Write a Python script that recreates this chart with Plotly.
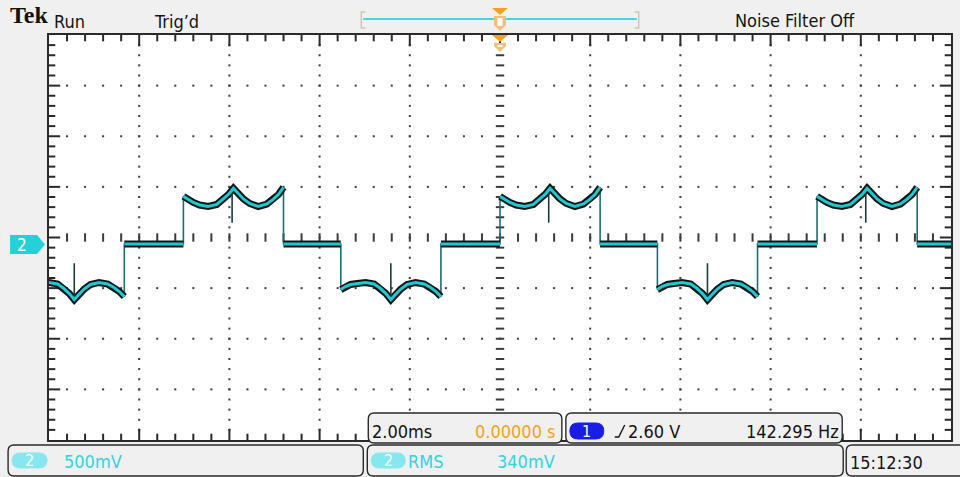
import plotly.graph_objects as go

# ---------------- acquisition settings ----------------
time_per_div_ms = 2.0
volts_per_div = 0.5
n_hdiv, n_vdiv = 10, 8
graticule_center_v = 0.064      # CH2 ground sits just below the graticule centre

# ---------------- channel 2 waveform ----------------
# three-level stepped output: +plateau, 0, -plateau, 0 ...
high_starts_ms = [-7.02, 0.00, 7.03]
low_starts_ms = [-10.55, -3.53, 3.49]
# time offsets (ms) across one 2.22 ms plateau and the ripple read on it
plateau_t_ms = [0.00, 0.10, 0.22, 0.36, 0.55, 0.74, 0.88, 1.00, 1.11,
                1.21, 1.33, 1.47, 1.66, 1.85, 1.99, 2.11, 2.22]
high_plateau_v = [0.47, 0.44, 0.41, 0.385, 0.37, 0.39, 0.44, 0.49, 0.55,
                  0.50, 0.445, 0.40, 0.37, 0.395, 0.44, 0.49, 0.56]
low_plateau_v = [-0.45, -0.42, -0.40, -0.39, -0.38, -0.395, -0.44, -0.49, -0.55,
                 -0.50, -0.445, -0.40, -0.38, -0.395, -0.43, -0.47, -0.52]
# glitch at the middle cusp of each plateau: (offset ms, tip volts)
high_spike = (1.08, 0.21)
low_spike = (1.11, -0.19)

# ---------------- readouts ----------------
hdr_brand, hdr_state, hdr_trig, hdr_filter = "Tek", "Run", "Trig\u2019d", "Noise Filter Off"
ch_label = "2"
timebase_txt, trig_pos_txt = "2.00ms", "0.00000 s"
trig_src_txt, trig_level_txt, freq_txt = "1", "2.60 V", "142.295 Hz"
ch_scale_txt, meas_name_txt, meas_val_txt = "500mV", "RMS", "340mV"
clock_txt = "15:12:30"

# ---------------- colours / fonts ----------------
BG = "#f0f0f0"
FRAME = "#2a2a2a"
DOT = "#3c3c3c"
CYAN = "#22c8d1"
CYAN_TXT = "#33d3dd"
PILL = "#86e8ee"
ORANGE = "#f2a21e"
ORANGE_LT = "#f3bd7c"
BLUE = "#1c1ce8"
FONT = "DejaVu Sans Condensed, sans-serif"
FS = 18

# ---------------- page geometry (px) ----------------
W, H = 960, 477
PL, PR, PT, PB = 49, 953, 35, 440


def fx(px):
    return (px - PL) / (PR - PL)


def fy(py):
    return (PB - py) / (PB - PT)


t_half = n_hdiv / 2 * time_per_div_ms
v_half = n_vdiv / 2 * volts_per_div
x_range = [-t_half, t_half]
y_range = [graticule_center_v - v_half, graticule_center_v + v_half]

# ---------------- build the trace path ----------------
segments = sorted([(s, "high") for s in high_starts_ms] + [(s, "low") for s in low_starts_ms])
path_x, path_y = [], []          # full path including the vertical edges
band_x, band_y = [], []          # plateaus / zero stretches only (thick band)
spike_x, spike_y = [], []
t_prev = None
for start, kind in segments:
    vals = high_plateau_v if kind == "high" else low_plateau_v
    spike = high_spike if kind == "high" else low_spike
    if t_prev is not None:
        band_x += [t_prev, start, None]
        band_y += [0.0, 0.0, None]
        path_x += [t_prev, start]
        path_y += [0.0, 0.0]
    px = [start + t for t in plateau_t_ms]
    band_x += px + [None]
    band_y += vals + [None]
    path_x += px
    path_y += vals
    cusp_v = vals[plateau_t_ms.index(1.11)]
    spike_x += [start + spike[0], start + spike[0], None]
    spike_y += [cusp_v, spike[1], None]
    t_prev = px[-1]
band_x += [t_prev, x_range[1]]
band_y += [0.0, 0.0]
path_x += [t_prev, x_range[1]]
path_y += [0.0, 0.0]

# ---------------- graticule ----------------
dx_minor = time_per_div_ms / 5
dy_minor = volts_per_div / 5
dot_x, dot_y = [], []
for k in range(1, n_vdiv):
    if k == n_vdiv // 2:
        continue
    yv = y_range[0] + k * volts_per_div
    for i in range(1, n_hdiv * 5):
        dot_x.append(x_range[0] + i * dx_minor)
        dot_y.append(yv)
for k in range(1, n_hdiv):
    if k == n_hdiv // 2:
        continue
    xv = x_range[0] + k * time_per_div_ms
    for j in range(1, n_vdiv * 5):
        dot_x.append(xv)
        dot_y.append(y_range[0] + j * dy_minor)

cx_ticks = [x_range[0] + i * dx_minor for i in range(1, n_hdiv * 5)]
cy_ticks = [y_range[0] + j * dy_minor for j in range(1, n_vdiv * 5)]

fig = go.Figure()
fig.add_trace(go.Scatter(x=dot_x, y=dot_y, mode="markers",
                         marker=dict(symbol="square", size=2, color=DOT, line=dict(width=0)),
                         hoverinfo="skip"))
# centre cross ticks
fig.add_trace(go.Scatter(x=cx_ticks, y=[graticule_center_v] * len(cx_ticks), mode="markers",
                         marker=dict(symbol="line-ns", size=6, line=dict(width=2, color=DOT)),
                         hoverinfo="skip"))
fig.add_trace(go.Scatter(x=[0.0] * len(cy_ticks), y=cy_ticks, mode="markers",
                         marker=dict(symbol="line-ew", size=6, line=dict(width=2, color=DOT)),
                         hoverinfo="skip"))

# frame ticks: markers centred on the border, clipped to the inner half
for is_major in (False, True):
    size = 16 if is_major else 9
    xs = [x for i, x in enumerate(cx_ticks) if ((i + 1) % 5 == 0) == is_major]
    ys = [y for j, y in enumerate(cy_ticks) if ((j + 1) % 5 == 0) == is_major]
    fig.add_trace(go.Scatter(x=xs + xs, y=[y_range[0]] * len(xs) + [y_range[1]] * len(xs),
                             mode="markers", cliponaxis=True,
                             marker=dict(symbol="line-ns", size=size,
                                         line=dict(width=2, color=FRAME)),
                             hoverinfo="skip"))
    fig.add_trace(go.Scatter(x=[x_range[0]] * len(ys) + [x_range[1]] * len(ys), y=ys + ys,
                             mode="markers", cliponaxis=True,
                             marker=dict(symbol="line-ew", size=size,
                                         line=dict(width=2, color=FRAME)),
                             hoverinfo="skip"))

# channel 2 trace: dark persistence band, thin edges, bright core
fig.add_trace(go.Scatter(x=path_x, y=path_y, mode="lines",
                         line=dict(color="#1d6d72", width=1.6), hoverinfo="skip"))
fig.add_trace(go.Scatter(x=band_x, y=band_y, mode="lines",
                         line=dict(color="#0c1616", width=7), hoverinfo="skip"))
fig.add_trace(go.Scatter(x=spike_x, y=spike_y, mode="lines",
                         line=dict(color="#1a3a3c", width=1.6), hoverinfo="skip"))
fig.add_trace(go.Scatter(x=band_x, y=band_y, mode="lines",
                         line=dict(color=CYAN, width=3), hoverinfo="skip"))

shapes = []
annotations = []


def rrect(x0, y0, x1, y1, r=6, fill=BG, line=FRAME, lw=1.4):
    rx = r / (PR - PL)
    ry = r / (PB - PT)
    a, b, c, d = fx(x0), fx(x1), fy(y0), fy(y1)   # c top, d bottom (paper)
    p = (f"M {a + rx},{c} L {b - rx},{c} Q {b},{c} {b},{c - ry} "
         f"L {b},{d + ry} Q {b},{d} {b - rx},{d} L {a + rx},{d} "
         f"Q {a},{d} {a},{d + ry} L {a},{c - ry} Q {a},{c} {a + rx},{c} Z")
    shapes.append(dict(type="path", path=p, xref="paper", yref="paper",
                       fillcolor=fill, line=dict(color=line, width=lw), layer="above"))


def poly(pts, fill, line_color=None, lw=0):
    p = "M " + " L ".join(f"{fx(x)},{fy(y)}" for x, y in pts) + " Z"
    shapes.append(dict(type="path", path=p, xref="paper", yref="paper",
                       fillcolor=fill, line=dict(color=line_color or fill, width=lw),
                       layer="above"))


def text(s, x, y, size=FS, color="#141414", anchor="left", family=FONT, bold=False):
    if bold:
        s = f"<b>{s}</b>"
    annotations.append(dict(text=s, x=fx(x), y=fy(y), xref="paper", yref="paper",
                            xanchor=anchor, yanchor="middle", showarrow=False,
                            font=dict(size=size, color=color, family=family)))


# ---- header ----
text(hdr_brand, 8, 15, size=24, family="Liberation Serif, serif", bold=True, color="#111")
text(hdr_state, 52, 21)
text(hdr_trig, 152, 21)
text(hdr_filter, 797, 20, anchor="center")

# horizontal position bar
shapes.append(dict(type="line", xref="paper", yref="paper", x0=fx(364), x1=fx(638),
                   y0=fy(19), y1=fy(19), line=dict(color="#45d6df", width=2), layer="above"))
for bx, sgn in ((362, 1), (640, -1)):
    p = (f"M {fx(bx + 4 * sgn)},{fy(12)} L {fx(bx)},{fy(12)} "
         f"L {fx(bx)},{fy(28)} L {fx(bx + 4 * sgn)},{fy(28)}")
    shapes.append(dict(type="path", path=p, xref="paper", yref="paper",
                       line=dict(color="#cfc6b8", width=1.5), layer="above"))

# trigger position markers (header + graticule top)
for top, depth in ((8, 23), (35, 17)):
    poly([(493, top), (509, top), (501, top + 7)], ORANGE)
    poly([(495, top + 8), (507, top + 8), (507, top + depth - 6), (501, top + depth),
          (495, top + depth - 6)], ORANGE_LT)
    poly([(498.5, top + 10), (503.5, top + 10), (503.5, top + depth - 5),
          (498.5, top + depth - 5)], "#ffffff")

# channel 2 ground marker
poly([(10, 235), (37, 235), (45, 244.5), (37, 254), (10, 254)], "#25d0d9")
text(ch_label, 22, 245, size=17, color="#ffffff", anchor="center")

# ---- bottom readouts ----
rrect(369, 413, 563, 443)
text(timebase_txt, 371, 431)
text(trig_pos_txt, 559, 431, color=ORANGE, anchor="right")

rrect(567, 413, 844, 443)
rrect(571, 423, 605, 439, r=8, fill=BLUE, line=BLUE, lw=1)
text(trig_src_txt, 588, 431, size=16, color="#ffffff", anchor="center")
# rising-edge slope glyph
p = f"M {fx(616)},{fy(437)} L {fx(620)},{fy(437)} L {fx(626)},{fy(425)}"
shapes.append(dict(type="path", path=p, xref="paper", yref="paper",
                   line=dict(color="#141414", width=1.4), layer="above"))
text(trig_level_txt, 627, 431)
text(freq_txt, 843, 431, anchor="right")

rrect(8, 445, 364, 476)
rrect(12, 453, 47, 468, r=8, fill=PILL, line=PILL, lw=1)
text(ch_label, 29, 460.5, size=16, color="#ffffff", anchor="center")
text(ch_scale_txt, 62, 461, color=CYAN_TXT)

rrect(368, 445, 845, 476)
rrect(372, 453, 406, 468, r=8, fill=PILL, line=PILL, lw=1)
text(ch_label, 389, 460.5, size=16, color="#ffffff", anchor="center")
text(meas_name_txt, 407, 461, color=CYAN_TXT)
text(meas_val_txt, 496, 461, color=CYAN_TXT)

rrect(848, 445, 975, 476)
text(clock_txt, 850, 462)

axis_common = dict(showgrid=False, zeroline=False, showline=True, linecolor=FRAME,
                   linewidth=2, mirror=True, ticks="", showticklabels=False,
                   fixedrange=True)
fig.update_layout(
    width=W, height=H,
    margin=dict(l=PL, r=W - PR, t=PT, b=H - PB, pad=0),
    paper_bgcolor=BG, plot_bgcolor="#ffffff",
    showlegend=False,
    xaxis=dict(range=x_range, **axis_common),
    yaxis=dict(range=y_range, **axis_common),
    shapes=shapes,
    annotations=annotations,
)

fig.write_html("out.html")
